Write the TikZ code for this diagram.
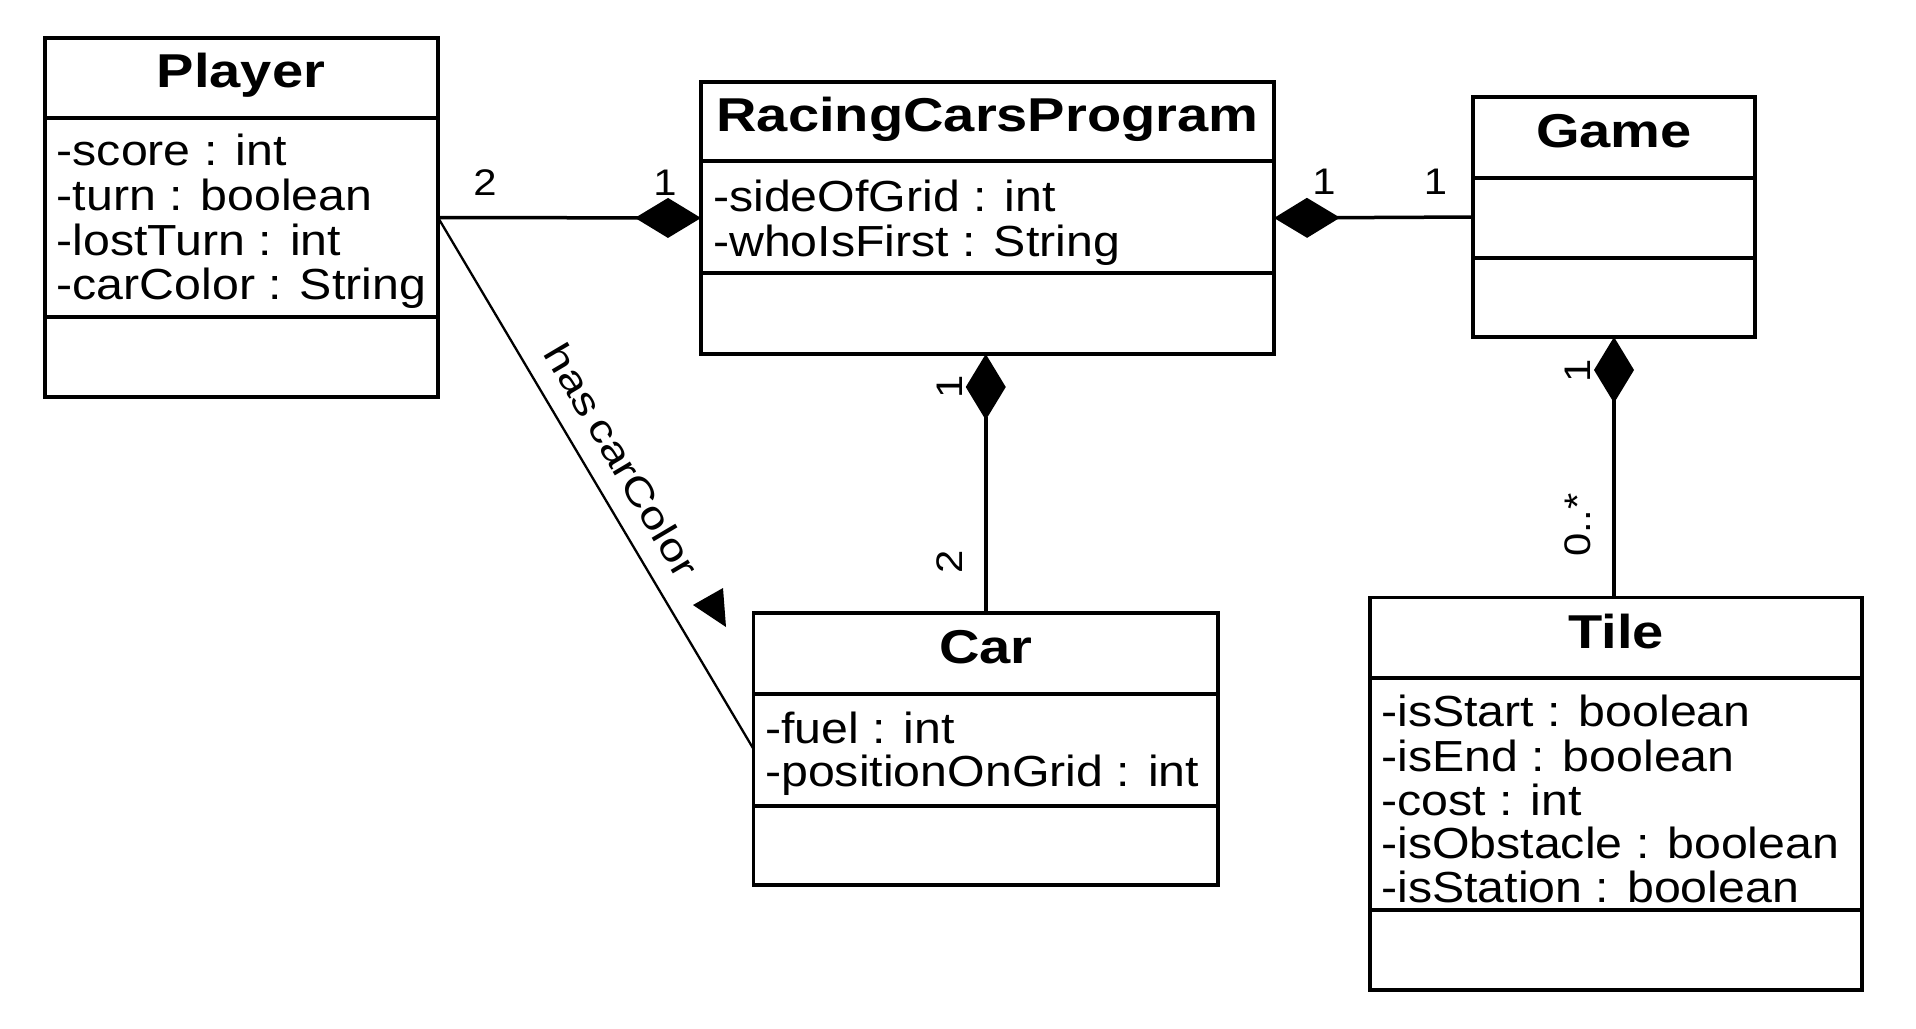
\documentclass[tikz,border=0pt]{standalone}
\usepackage{fontspec}
\setmainfont{Liberation Sans}
\newfontfamily\attrfam[FakeStretch=1.11]{Liberation Sans}
\newfontfamily\titlefam[FakeStretch=1.18]{Liberation Sans}
\newfontfamily\multfam[FakeStretch=1.13]{Liberation Sans}
\newfontfamily\rolefam[FakeStretch=1.25]{Liberation Sans}
\usetikzlibrary{arrows.meta}
\begin{document}
\begin{tikzpicture}[x=1pt,y=-1pt,
  classbox/.style={draw, line width=3.5pt, inner sep=0pt, outer sep=0pt},
  divider/.style={line width=3.5pt},
  title/.style={font=\titlefam\bfseries\fontsize{47.5}{50}\selectfont, inner sep=0pt, anchor=base},
  attr/.style={font=\attrfam\fontsize{43.5}{44}\selectfont, inner sep=0pt, anchor=base west},
  mult/.style={font=\multfam\fontsize{37}{40}\selectfont, inner sep=0pt},
  conn/.style={line width=3.5pt},
  comp/.style={-{Diamond[length=66pt,width=40pt]}},
]
\useasboundingbox[fill=white] (0,0) rectangle (1916,1028);

% classes
\node[classbox, minimum width=393pt, minimum height=359pt] (player) at (241.5,217.5) {};
\node[classbox, minimum width=573pt, minimum height=272pt] (rcp) at (987.5,218) {};
\node[classbox, minimum width=282pt, minimum height=240pt] (game) at (1614,217) {};
\node[classbox, minimum width=464.5pt, minimum height=272pt] (car) at (985.75,749) {};
\node[classbox, minimum width=492pt, minimum height=392.5pt] (tile) at (1616,793.75) {};

% dividers
\draw[divider] (player.west |- 0,118) -- (player.east |- 0,118);
\draw[divider] (player.west |- 0,317) -- (player.east |- 0,317);
\draw[divider] (rcp.west |- 0,161) -- (rcp.east |- 0,161);
\draw[divider] (rcp.west |- 0,273) -- (rcp.east |- 0,273);
\draw[divider] (game.west |- 0,178) -- (game.east |- 0,178);
\draw[divider] (game.west |- 0,258) -- (game.east |- 0,258);
\draw[divider] (car.west |- 0,694) -- (car.east |- 0,694);
\draw[divider] (car.west |- 0,806) -- (car.east |- 0,806);
\draw[divider] (tile.west |- 0,678) -- (tile.east |- 0,678);
\draw[divider] (tile.west |- 0,910) -- (tile.east |- 0,910);

% titles
\node[title] (tplayer) at (241,87.5) {Player};
\node[title] (trcp) at (987.5,131.7) {RacingCarsProgram};
\node[title] (tgame) at (1614,147) {Game};
\node[title] (tcar) at (986,663) {Car};
\node[title] (ttile) at (1616,648) {Tile};

% attributes
\node[attr] (pa1) at (56.5,165.7) {-score : int};
\node[attr] (pa2) at (56.5,210.7) {-turn : boolean};
\node[attr] (pa3) at (56.5,255) {-lostTurn : int};
\node[attr] (pa4) at (56.5,299) {-carColor : String};
\node[attr] (ra1) at (713,211.7) {-sideOfGrid : int};
\node[attr] (ra2) at (713,256) {-whoIsFirst : String};
\node[attr] (ca1) at (765,743.3) {-fuel : int};
\node[attr] (ca2) at (765,786.7) {-positionOnGrid : int};
\node[attr] (ta1) at (1381,726.7) {-isStart : boolean};
\node[attr] (ta2) at (1381,771.7) {-isEnd : boolean};
\node[attr] (ta3) at (1381,815) {-cost : int};
\node[attr] (ta4) at (1381,858) {-isObstacle : boolean};
\node[attr] (ta5) at (1381,902.7) {-isStation : boolean};

% connectors
\draw[conn, comp] (player.east) -- (rcp.west);
\draw[conn, comp] (game.west) -- (rcp.east);
\draw[conn, comp] (car.north) -- (car.north |- rcp.south);
\draw[conn, comp] (game.south |- tile.north) -- (game.south);
\draw[line width=2.3pt] (player.east) -- (car.west)
  node[pos=0.49, sloped, anchor=south, inner xsep=0pt, inner ysep=19pt,
       font=\rolefam\fontsize{38}{40}\selectfont] (role) {has\hspace{8pt}carColor};
\fill (693,605) -- (723,588) -- (726,627) -- cycle;

% multiplicities
\node[mult] (m1) at (485,182.5) {2};
\node[mult] (m2) at (665,182.5) {1};
\node[mult] (m3) at (1324,181.5) {1};
\node[mult] (m4) at (1435.5,181.5) {1};
\node[mult, rotate=90] (m5) at (950,387) {1};
\node[mult, rotate=90] (m6) at (950,562) {2};
\node[mult, rotate=90] (m7) at (1578,371) {1};
\node[mult, rotate=90] (m8) at (1578,525) {0..*};
\end{tikzpicture}
\end{document}
